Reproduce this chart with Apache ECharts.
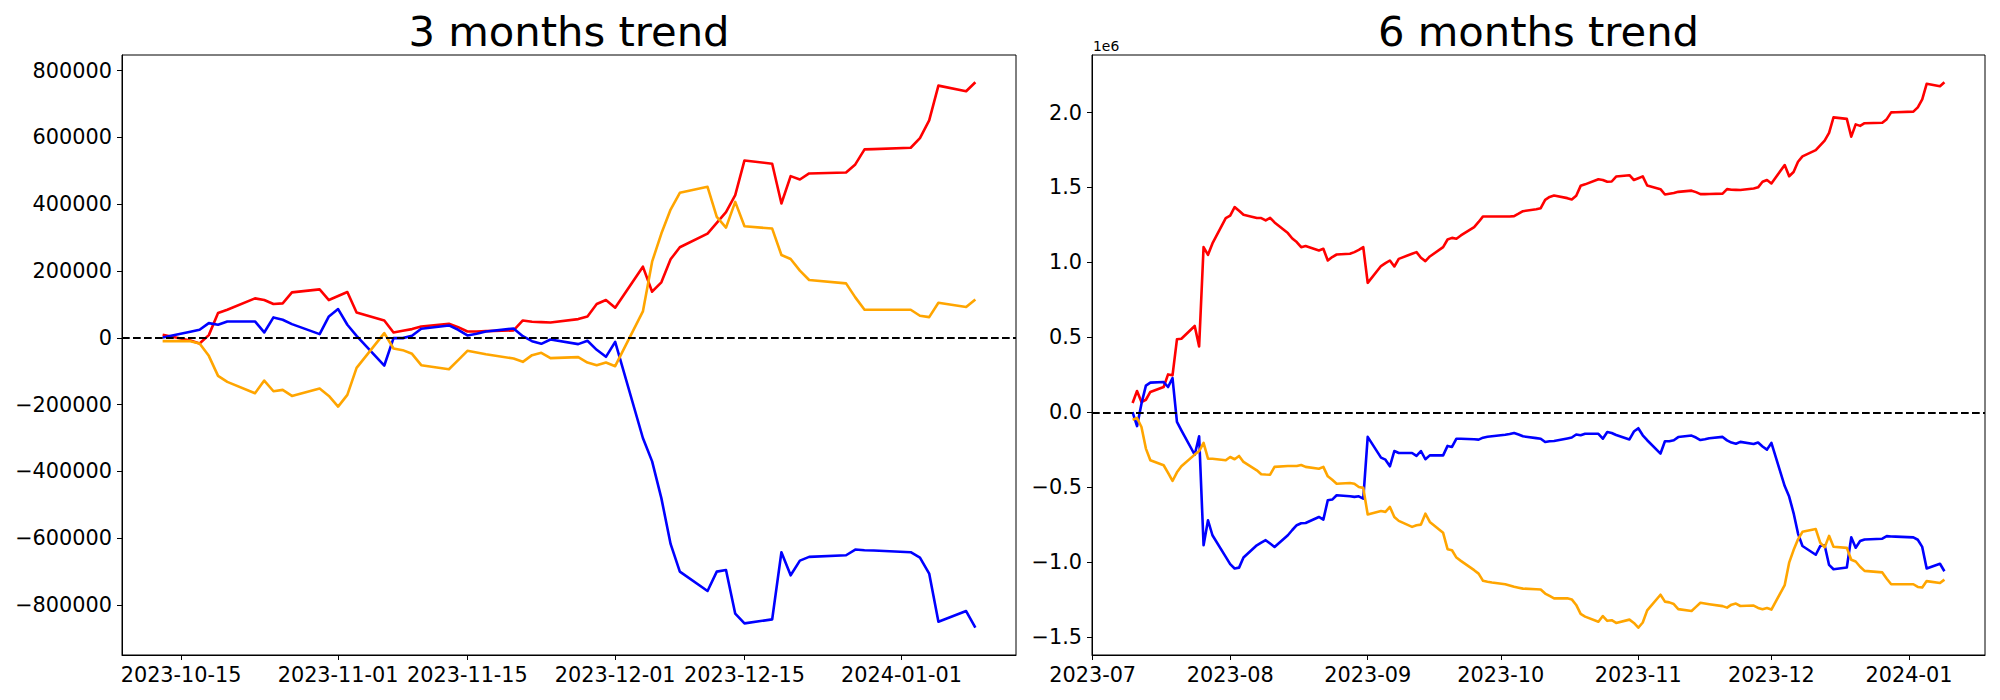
<!DOCTYPE html>
<html>
<head>
<meta charset="utf-8">
<script src="https://cdn.jsdelivr.net/npm/echarts@6/dist/echarts.min.js"></script>
<style>
html,body{margin:0;padding:0;background:#ffffff;}
#main{width:2000px;height:700px;}
</style>
</head>
<body>
<div id="main"></div>
<script>
// ---------- 3 months trend ----------
const dates3 = ['2023-10-13','2023-10-16','2023-10-17','2023-10-18','2023-10-19','2023-10-20',
'2023-10-23','2023-10-24','2023-10-25','2023-10-26','2023-10-27','2023-10-30','2023-10-31',
'2023-11-01','2023-11-02','2023-11-03','2023-11-06','2023-11-07','2023-11-08','2023-11-09','2023-11-10',
'2023-11-13','2023-11-14','2023-11-15','2023-11-16','2023-11-17','2023-11-20','2023-11-21','2023-11-22',
'2023-11-23','2023-11-24','2023-11-27','2023-11-28','2023-11-29','2023-11-30','2023-12-01',
'2023-12-04','2023-12-05','2023-12-06','2023-12-07','2023-12-08','2023-12-11','2023-12-12','2023-12-13',
'2023-12-14','2023-12-15','2023-12-18','2023-12-19','2023-12-20','2023-12-21','2023-12-22',
'2023-12-26','2023-12-27','2023-12-28','2023-12-29','2024-01-02','2024-01-03','2024-01-04','2024-01-05',
'2024-01-08','2024-01-09'];
const red3 = [9000,-8000,-17000,8000,74000,84000,
118000,113000,101000,103000,136000,145000,113000,
125000,137000,76000,52000,16000,21000,26000,34000,
42000,32000,19000,19000,20000,22000,52000,48000,
47000,46000,56000,64000,101000,113000,90000,
213000,138000,166000,235000,271000,312000,344000,376000,
427000,531000,521000,402000,484000,474000,492000,
495000,519000,564000,565000,569000,598000,651000,755000,
738000,765000];
const blue3 = [1000,18000,24000,44000,39000,49000,
49000,16000,61000,54000,41000,11000,64000,
86000,39000,6000,-83000,-1000,-1000,6000,27000,
37000,24000,7000,12000,19000,28000,5000,-10000,
-18000,-5000,-19000,-9000,-36000,-57000,-12000,
-300000,-370000,-480000,-617000,-700000,-758000,-700000,-695000,
-826000,-855000,-843000,-642000,-711000,-667000,-656000,
-651000,-634000,-636000,-637000,-642000,-658000,-706000,-850000,
-818000,-868000];
const orange3 = [-10000,-10000,-17000,-54000,-114000,-132000,
-166000,-128000,-160000,-156000,-174000,-152000,-174000,
-206000,-171000,-90000,14000,-32000,-37000,-48000,-82000,
-94000,-67000,-39000,-44000,-49000,-62000,-72000,-52000,
-45000,-61000,-58000,-74000,-82000,-74000,-85000,
79000,228000,312000,384000,434000,452000,362000,330000,
407000,334000,327000,248000,236000,201000,173000,
163000,121000,84000,84000,84000,66000,62000,105000,
92000,115000];
const xTicks3 = ['2023-10-15','2023-11-01','2023-11-15','2023-12-01','2023-12-15','2024-01-01'];
const yTicks3 = [-800000,-600000,-400000,-200000,0,200000,400000,600000,800000];

// ---------- 6 months trend ----------
const dates6 = ['2023-07-10','2023-07-11','2023-07-12','2023-07-13','2023-07-14',
'2023-07-17','2023-07-18','2023-07-19','2023-07-20','2023-07-21',
'2023-07-24','2023-07-25','2023-07-26','2023-07-27','2023-07-28',
'2023-07-31','2023-08-01','2023-08-02','2023-08-03','2023-08-04',
'2023-08-07','2023-08-08','2023-08-09','2023-08-10','2023-08-11',
'2023-08-14','2023-08-15','2023-08-16','2023-08-17','2023-08-18',
'2023-08-21','2023-08-22','2023-08-23','2023-08-24','2023-08-25',
'2023-08-28','2023-08-29','2023-08-30','2023-08-31','2023-09-01',
'2023-09-04','2023-09-05','2023-09-06','2023-09-07','2023-09-08',
'2023-09-11','2023-09-12','2023-09-13','2023-09-14','2023-09-15',
'2023-09-18','2023-09-19','2023-09-20','2023-09-21','2023-09-22',
'2023-09-25','2023-09-26','2023-09-27','2023-09-28','2023-09-29',
'2023-10-02','2023-10-03','2023-10-04','2023-10-05','2023-10-06',
'2023-10-09','2023-10-10','2023-10-11','2023-10-12'].concat(dates3);
const red6 = [62000,142000,69000,84000,136000,
169000,253000,247000,487000,491000,
576000,440000,1102000,1051000,1127000,
1296000,1313000,1369000,1345000,1318000,
1296000,1296000,1280000,1298000,1267000,
1196000,1160000,1136000,1102000,1109000,
1080000,1091000,1013000,1036000,1053000,
1058000,1069000,1084000,1102000,864000,
976000,995000,1013000,973000,1024000,
1058000,1069000,1031000,1009000,1040000,
1102000,1153000,1164000,1158000,1180000,
1236000,1270000,1307000,1307000,1307000,
1307000,1307000,1309000,1325000,1342000,
1355000,1362000,1418000,1437000,
1446000,1429000,1420000,1445000,1511000,1521000,
1555000,1550000,1538000,1540000,1573000,1582000,1550000,
1562000,1574000,1513000,1489000,1453000,1458000,1463000,1471000,
1479000,1469000,1456000,1456000,1457000,1459000,1489000,1485000,
1484000,1483000,1493000,1501000,1538000,1550000,1527000,
1650000,1575000,1603000,1672000,1708000,1749000,1781000,1813000,
1864000,1968000,1958000,1839000,1921000,1911000,1929000,
1932000,1956000,2001000,2002000,2006000,2035000,2088000,2192000,
2175000,2202000];
const blue6 = [2000,-92000,58000,178000,198000,
202000,169000,229000,-64000,-120000,
-283000,-160000,-887000,-720000,-820000,
-964000,-1013000,-1042000,-1036000,-969000,
-887000,-870000,-853000,-875000,-898000,
-820000,-785000,-753000,-740000,-738000,
-698000,-716000,-587000,-582000,-553000,
-560000,-564000,-560000,-576000,-164000,
-302000,-316000,-360000,-258000,-271000,
-271000,-291000,-258000,-313000,-287000,
-287000,-224000,-231000,-176000,-176000,
-180000,-182000,-169000,-163000,-160000,
-150000,-145000,-138000,-148000,-160000,
-172000,-176000,-198000,-193000,
-191000,-174000,-168000,-148000,-153000,-143000,
-143000,-176000,-131000,-138000,-151000,-181000,-128000,
-106000,-153000,-186000,-275000,-193000,-193000,-186000,-165000,
-155000,-168000,-185000,-180000,-173000,-164000,-187000,-202000,
-210000,-197000,-211000,-201000,-228000,-249000,-204000,
-492000,-562000,-672000,-809000,-892000,-950000,-892000,-887000,
-1018000,-1047000,-1035000,-834000,-903000,-859000,-848000,
-843000,-826000,-828000,-829000,-834000,-850000,-898000,-1042000,
-1010000,-1060000];
const orange6 = [-49000,-38000,-98000,-242000,-320000,
-353000,-404000,-458000,-400000,-360000,
-282000,-258000,-204000,-309000,-310000,
-320000,-298000,-313000,-291000,-331000,
-387000,-413000,-415000,-416000,-364000,
-358000,-358000,-358000,-351000,-364000,
-376000,-364000,-427000,-450000,-476000,
-471000,-476000,-498000,-504000,-682000,
-658000,-664000,-631000,-698000,-724000,
-764000,-753000,-749000,-676000,-731000,
-804000,-913000,-920000,-969000,-991000,
-1053000,-1076000,-1124000,-1130000,-1135000,
-1147000,-1155000,-1164000,-1170000,-1176000,
-1180000,-1182000,-1209000,-1225000,
-1241000,-1241000,-1248000,-1285000,-1345000,-1363000,
-1397000,-1359000,-1391000,-1387000,-1405000,-1383000,-1405000,
-1437000,-1402000,-1321000,-1217000,-1263000,-1268000,-1279000,-1313000,
-1325000,-1298000,-1270000,-1275000,-1280000,-1293000,-1303000,-1283000,
-1276000,-1292000,-1289000,-1305000,-1313000,-1305000,-1316000,
-1152000,-1003000,-919000,-847000,-797000,-779000,-869000,-901000,
-824000,-897000,-904000,-983000,-995000,-1030000,-1058000,
-1068000,-1110000,-1147000,-1147000,-1147000,-1165000,-1169000,-1126000,
-1139000,-1116000];
const xTicks6 = ['2023-07-01','2023-08-01','2023-09-01','2023-10-01','2023-11-01','2023-12-01','2024-01-01'];
const yTicks6 = [-1500000,-1000000,-500000,0,500000,1000000,1500000,2000000];

const titles = ['3 months trend', '6 months trend'];
const offsetText6 = '1e6';

// ---------- helpers ----------
const FONT = 'DejaVu Sans';
const MINUS = '\u2212';
function padExtent(arrs) {
  let lo = Infinity, hi = -Infinity;
  arrs.forEach(a => a.forEach(v => { if (v < lo) lo = v; if (v > hi) hi = v; }));
  const m = (hi - lo) * 0.05;
  return [lo - m, hi + m];
}
const ts = d => Date.parse(d);
const fmtDay = v => new Date(v).toISOString().slice(0, 10);
const fmtMonth = v => new Date(v).toISOString().slice(0, 7);
const fmtInt = v => (v < 0 ? MINUS : '') + Math.round(Math.abs(v));
const fmtE6 = v => (v < -1e-9 ? MINUS : '') + (Math.abs(v) / 1e6).toFixed(1);

const x3 = padExtent([dates3.map(ts)]);
const x6 = padExtent([dates6.map(ts)]);
const y3 = padExtent([red3, blue3, orange3]);
const y6 = padExtent([red6, blue6, orange6]);

function xAxis(idx, ext, ticks, fmt) {
  const vals = ticks.map(ts);
  return {
    type: 'value', gridIndex: idx, min: ext[0], max: ext[1], scale: true,
    axisLine: { show: true, onZero: false, lineStyle: { color: '#000', width: 1 } },
    axisTick: { show: true, length: 5, inside: false, customValues: vals, lineStyle: { color: '#000', width: 1 } },
    axisLabel: { show: true, customValues: vals, formatter: fmt, color: '#000', fontFamily: FONT, fontSize: 20.8, margin: 9, hideOverlap: false, showMinLabel: true, showMaxLabel: true },
    splitLine: { show: false }, minorTick: { show: false }
  };
}
function yAxis(idx, ext, ticks, fmt) {
  return {
    type: 'value', gridIndex: idx, min: ext[0], max: ext[1], scale: true,
    axisLine: { show: true, onZero: false, lineStyle: { color: '#000', width: 1 } },
    axisTick: { show: true, length: 5, inside: false, customValues: ticks, lineStyle: { color: '#000', width: 1 } },
    axisLabel: { show: true, customValues: ticks, formatter: fmt, color: '#000', fontFamily: FONT, fontSize: 20.8, margin: 10, showMinLabel: true, showMaxLabel: true },
    splitLine: { show: false }
  };
}
function line(idx, dates, vals, color, withZero) {
  const s = {
    type: 'line', xAxisIndex: idx, yAxisIndex: idx,
    data: dates.map((d, i) => [ts(d), vals[i]]),
    showSymbol: false, symbol: 'none', silent: true, animation: false,
    lineStyle: { color: color, width: 2.6, join: 'round', cap: 'butt' }, itemStyle: { color: color },
    emphasis: { disabled: true }, z: 2
  };
  if (withZero) {
    s.markLine = {
      silent: true, symbol: ['none', 'none'], animation: false,
      label: { show: false },
      lineStyle: { color: '#000', width: 2, type: [7.7, 3.3] },
      emphasis: { disabled: true },
      data: [{ yAxis: 0 }]
    };
  }
  return s;
}

const chart = echarts.init(document.getElementById('main'), null, { renderer: 'svg', width: 2000, height: 700 });
chart.setOption({
  animation: false,
  backgroundColor: '#ffffff',
  title: [
    { text: titles[0], left: 569, top: 10, textAlign: 'center', padding: 0,
      textStyle: { fontFamily: FONT, fontSize: 41.7, fontWeight: 'normal', color: '#000' } },
    { text: titles[1], left: 1538.5, top: 10, textAlign: 'center', padding: 0,
      textStyle: { fontFamily: FONT, fontSize: 41.7, fontWeight: 'normal', color: '#000' } },
    { text: offsetText6, left: 1093, top: 39, padding: 0,
      textStyle: { fontFamily: FONT, fontSize: 13.9, fontWeight: 'normal', color: '#000' } }
  ],
  grid: [
    { left: 122, top: 55, width: 894, height: 600, show: true, borderColor: '#000', borderWidth: 1, backgroundColor: 'transparent', containLabel: false },
    { left: 1092, top: 55, width: 893, height: 600, show: true, borderColor: '#000', borderWidth: 1, backgroundColor: 'transparent', containLabel: false }
  ],
  xAxis: [ xAxis(0, x3, xTicks3, fmtDay), xAxis(1, x6, xTicks6, fmtMonth) ],
  yAxis: [ yAxis(0, y3, yTicks3, fmtInt), yAxis(1, y6, yTicks6, fmtE6) ],
  series: [
    line(0, dates3, red3, '#ff0000', false),
    line(0, dates3, blue3, '#0000ff', false),
    line(0, dates3, orange3, '#ffa500', true),
    line(1, dates6, red6, '#ff0000', false),
    line(1, dates6, blue6, '#0000ff', false),
    line(1, dates6, orange6, '#ffa500', true)
  ]
});
</script>
</body>
</html>
